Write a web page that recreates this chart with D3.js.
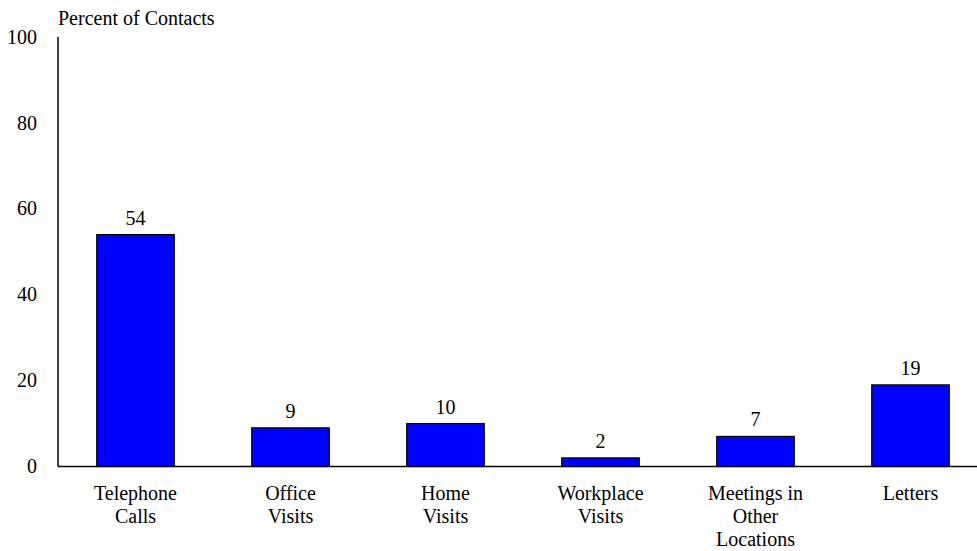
<!DOCTYPE html>
<html>
<head>
<meta charset="utf-8">
<script src="https://cdn.jsdelivr.net/npm/d3@7"></script>
<style>
  body { margin: 0; background: #fff; }
</style>
</head>
<body>
<div id="graphic"></div>
<script>
// chart data
const categories = [
  ["Telephone", "Calls"],
  ["Office", "Visits"],
  ["Home", "Visits"],
  ["Workplace", "Visits"],
  ["Meetings in", "Other", "Locations"],
  ["Letters"]
];
const values = [54, 9, 10, 2, 7, 19];
const yTicks = [0, 20, 40, 60, 80, 100];
const yTitle = "Percent of Contacts";

const width = 977, height = 551;
const margin = {top: 37, left: 58, bottom: 84.5};
const serif = "'Liberation Serif', 'Times New Roman', Times, 'DejaVu Serif', serif";
const fontSize = "20px";

const svg = d3.select("#graphic")
              .append("svg")
              .attr("width", width)
              .attr("height", height)
              .attr("font-family", serif);

const data = values.map((v, i) => ({label: categories[i], value: v, key: i}));

// scales
const x = d3.scaleBand()
            .domain(data.map(d => d.key))
            .range([margin.left, margin.left + 6 * 155])
            .paddingInner(0.5)
            .paddingOuter(0.25);

const y = d3.scaleLinear()
            .domain([0, 100])
            .range([height - margin.bottom, margin.top]);

// y axis line and labels
svg.append("line")
   .attr("x1", margin.left).attr("x2", margin.left)
   .attr("y1", y(100)).attr("y2", y(0))
   .attr("stroke", "#000").attr("stroke-width", 1.5);

svg.selectAll(".ytick")
   .data(yTicks)
   .enter().append("text")
   .attr("class", "ytick")
   .attr("x", 37)
   .attr("y", d => y(d))
   .attr("dy", "0.33em")
   .attr("text-anchor", "end")
   .style("font-size", fontSize)
   .text(d => d);

svg.append("text")
   .attr("x", 58)
   .attr("y", 25)
   .style("font-size", fontSize)
   .text(yTitle);

// bars
svg.selectAll(".bar")
   .data(data)
   .enter().append("rect")
   .attr("class", "bar")
   .attr("x", d => x(d.key))
   .attr("width", x.bandwidth())
   .attr("y", d => y(d.value))
   .attr("height", d => y(0) - y(d.value))
   .attr("fill", "#0000ff")
   .attr("stroke", "#000")
   .attr("stroke-width", 1.2);

// value labels
svg.selectAll(".val")
   .data(data)
   .enter().append("text")
   .attr("class", "val")
   .attr("x", d => x(d.key) + x.bandwidth() / 2)
   .attr("y", d => y(d.value) - 10)
   .attr("text-anchor", "middle")
   .style("font-size", fontSize)
   .text(d => d.value);

// x axis baseline
svg.append("line")
   .attr("x1", margin.left).attr("x2", width)
   .attr("y1", y(0)).attr("y2", y(0))
   .attr("stroke", "#000").attr("stroke-width", 1.5);

// category labels
const cat = svg.selectAll(".cat")
   .data(data)
   .enter().append("text")
   .attr("class", "cat")
   .attr("text-anchor", "middle")
   .style("font-size", fontSize);

cat.selectAll("tspan")
   .data(d => d.label.map(l => ({l: l, cx: x(d.key) + x.bandwidth() / 2})))
   .enter().append("tspan")
   .attr("x", d => d.cx)
   .attr("y", (d, i) => y(0) + 33.5 + i * 23)
   .text(d => d.l);
</script>
</body>
</html>
